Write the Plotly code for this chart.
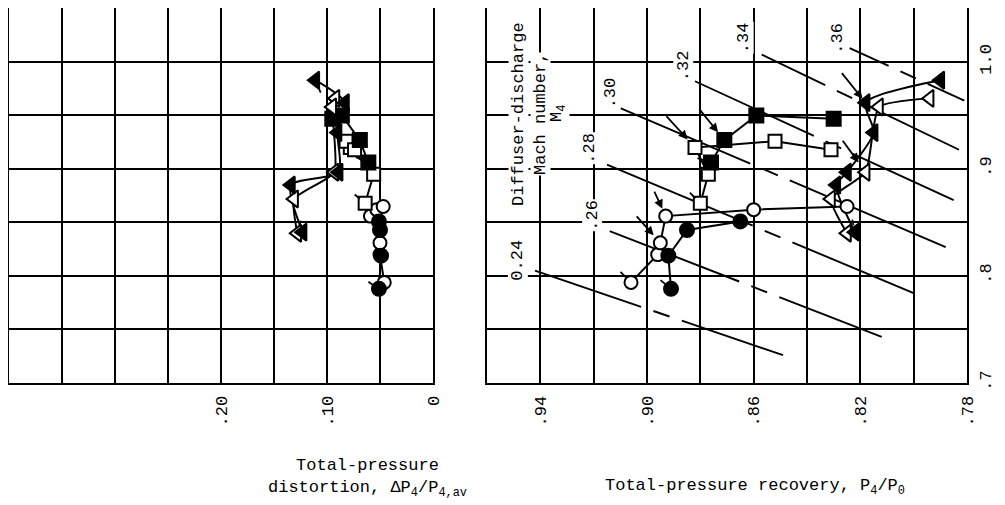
import math
import plotly.graph_objects as go

# ---------------- data ----------------
# shared ordinate values for each operating point (right-hand scale .7 - 1.0)
oc_y = [0.794, 0.820, 0.831, 0.856, 0.862, 0.865]
oc_rec = [0.906, 0.896, 0.895, 0.893, 0.860, 0.825]
oc_dist = [0.046, 0.050, 0.050, 0.059, 0.053, 0.047]

fc_y = [0.788, 0.819, 0.843, 0.851]
fc_rec = [0.891, 0.892, 0.885, 0.865]
fc_dist = [0.051, 0.049, 0.050, 0.051]

os_y = [0.868, 0.895, 0.920, 0.926, 0.918]
os_rec = [0.880, 0.877, 0.882, 0.852, 0.831]
os_dist = [0.064, 0.056, 0.078, 0.082, 0.074]

fs_y = [0.906, 0.927, 0.950, 0.947]
fs_rec = [0.876, 0.871, 0.859, 0.830]
fs_dist = [0.061, 0.069, 0.086, 0.095]

ft_y = [0.983, 0.962, 0.934, 0.897, 0.885, 0.841]
ft_rec = [0.790, 0.818, 0.815, 0.825, 0.829, 0.822]
ft_dist = [0.111, 0.083, 0.090, 0.089, 0.134, 0.123]

ot_y = [0.966, 0.958, 0.897, 0.872, 0.840]
ot_rec = [0.794, 0.813, 0.818, 0.831, 0.825]
ot_dist = [0.092, 0.095, 0.093, 0.131, 0.128]

# lines of constant diffuser-discharge Mach number (recovery, ordinate)
mach_labels = ["0.24", ".26", ".28", ".30", ".32", ".34", ".36"]
mach_x0 = [0.942, 0.914, 0.915, 0.910, 0.882, 0.857, 0.824]
mach_y0 = [0.805, 0.842, 0.904, 0.957, 0.982, 1.007, 1.013]
mach_x1 = [0.849, 0.812, 0.800, 0.788, 0.785, 0.783, 0.781]
mach_y1 = [0.726, 0.743, 0.784, 0.827, 0.871, 0.918, 0.964]

# tick labels
dist_tickvals = [0.0, 0.05, 0.10, 0.15, 0.20, 0.25, 0.30, 0.35, 0.40]
dist_ticktext = ["0", "", ".10", "", ".20", "", "", "", ""]
rec_tickvals = [0.78, 0.80, 0.82, 0.84, 0.86, 0.88, 0.90, 0.92, 0.94, 0.96]
rec_ticktext = [".78", "", ".82", "", ".86", "", ".90", "", ".94", ""]
y_tickvals = [0.70, 0.75, 0.80, 0.85, 0.90, 0.95, 1.00, 1.05]
y_ticktext = [".7", "", ".8", "", ".9", "", "1.0", ""]

# ---------------- styles ----------------
OFF = 8                      # page body margin of the html page
W, H = 1005 - OFF, 505 - OFF  # figure size so it fits the window


def px_x(p):  # reference pixel -> paper fraction
    return min(max((p - OFF) / W, 0.001), 1.0)


def px_y(p):
    return min(max(1 - (p - OFF) / H, 0.0), 0.999)


FONT = "Liberation Mono, Courier New, monospace"
dom_left = [px_x(7), px_x(433)]
dom_right = [px_x(487), px_x(967)]
dom_y = [px_y(383), px_y(8)]
dist_range = [0.40, 0.0]
rec_range = [0.96, 0.78]
y_range = [0.70, 1.05]

series = [
    # name, y, rec, dist, symbol, fill, size, line shape, smoothing
    ("oc", oc_y, oc_rec, oc_dist, "circle", "white", 13, "linear", 0),
    ("fc", fc_y, fc_rec, fc_dist, "circle", "black", 14, "linear", 0),
    ("os", os_y, os_rec, os_dist, "square", "white", 13, "linear", 0),
    ("fs", fs_y, fs_rec, fs_dist, "square", "black", 14, "linear", 0),
    ("ot", ot_y, ot_rec, ot_dist, "triangle-left", "white", 15, "spline", 0.5),
    ("ft", ft_y, ft_rec, ft_dist, "triangle-left", "black", 15, "spline", 0.7),
]
lookup = {s[0]: s for s in series}

# dash placement along each Mach line (fraction of length) and label offsets (px)
mach_dash_t = [0.51, 0.55, 0.54, 0.46, 0.535, 0.42, 0.51]
mach_lab_dx = [-17, -18, -17, -10, -12, -18, -13]
mach_lab_dy = [10, 16, 16, 15, 15, 17, 10]

# arrows pointing at selected points (right panel): series, index, ax, ay, standoff
arrows = [("os", 2, -30, -33, 11), ("fs", 1, -25, -31, 10), ("ft", 1, -25, -31, 5),
          ("oc", 2, -25, -28, 10), ("oc", 3, -12, -26, 8), ("ot", 2, -24, -33, 12)]
# small flags on symbols (right panel)
flags = [("oc", 0, -12, -12, 6), ("fc", 0, -12, -10, 7), ("os", 0, -12, -12, 7),
         ("fs", 0, -15, -5, 8), ("ft", 5, -3, -14, 7)]
# small flags on symbols (left panel)
flags_left = [("ft", 0, 6, 14, 7), ("ft", 1, -4, 14, 7), ("os", 0, -12, -10, 7),
              ("fs", 0, -14, -6, 8), ("fc", 0, -12, -8, 7), ("ot", 4, 4, -14, 7)]

fig = go.Figure()

# Mach-number lines
px_per_x = (dom_right[1] - dom_right[0]) * W / abs(rec_range[1] - rec_range[0])
px_per_y = (dom_y[1] - dom_y[0]) * H / abs(y_range[1] - y_range[0])
for i, lab in enumerate(mach_labels):
    L = math.hypot((mach_x1[i] - mach_x0[i]) * px_per_x, (mach_y1[i] - mach_y0[i]) * px_per_y)
    a = max(mach_dash_t[i] * L - 8.5 - 13, 5)
    dash = f"{a:.1f}px,13px,17px,13px,{L + 20:.1f}px"
    fig.add_trace(go.Scatter(x=[mach_x0[i], mach_x1[i]], y=[mach_y0[i], mach_y1[i]],
                             mode="lines", xaxis="x2", yaxis="y2", hoverinfo="skip",
                             line=dict(color="black", width=1.9, dash=dash),
                             showlegend=False))

# connecting lines, then markers
for name, yy, rec, dist, sym, fill, size, shape, smooth in series:
    for xs, xa, ya in ((dist, "x", "y"), (rec, "x2", "y2")):
        line = dict(color="black", width=2, shape=shape)
        if shape == "spline":
            line["smoothing"] = smooth
        fig.add_trace(go.Scatter(x=xs, y=yy, mode="lines", xaxis=xa, yaxis=ya,
                                 line=line, hoverinfo="skip", showlegend=False))
for name, yy, rec, dist, sym, fill, size, shape, smooth in series:
    for xs, xa, ya in ((dist, "x", "y"), (rec, "x2", "y2")):
        fig.add_trace(go.Scatter(x=xs, y=yy, mode="markers", xaxis=xa, yaxis=ya,
                                 marker=dict(symbol=sym, size=size, color=fill,
                                             line=dict(color="black", width=2)),
                                 showlegend=False))

annotations = []
for i, lab in enumerate(mach_labels):
    annotations.append(dict(x=mach_x0[i], y=mach_y0[i], xref="x2", yref="y2",
                            text=lab, showarrow=False, textangle=-90,
                            xshift=mach_lab_dx[i], yshift=mach_lab_dy[i],
                            font=dict(family=FONT, size=17, color="black"),
                            bgcolor="white", borderpad=0))

for name, idx, ax, ay, so in arrows:
    s = lookup[name]
    annotations.append(dict(x=s[2][idx], y=s[1][idx], xref="x2", yref="y2", text="",
                            showarrow=True, arrowhead=2, arrowsize=1, arrowwidth=1.8,
                            arrowcolor="black", ax=ax, ay=ay, standoff=so))
for name, idx, ax, ay, so in flags:
    s = lookup[name]
    annotations.append(dict(x=s[2][idx], y=s[1][idx], xref="x2", yref="y2", text="",
                            showarrow=True, arrowhead=0, arrowwidth=1.8,
                            arrowcolor="black", ax=ax, ay=ay, standoff=so))
for name, idx, ax, ay, so in flags_left:
    s = lookup[name]
    annotations.append(dict(x=s[3][idx], y=s[1][idx], xref="x", yref="y", text="",
                            showarrow=True, arrowhead=0, arrowwidth=1.8,
                            arrowcolor="black", ax=ax, ay=ay, standoff=so))

# Mach number title inside the right panel
for txt, px in (("Diffuser-discharge", 518), ("Mach number,", 540), ("M<sub>4</sub>", 558)):
    annotations.append(dict(x=px_x(px), y=px_y(114), xref="paper", yref="paper",
                            text=txt, showarrow=False, textangle=-90,
                            xanchor="center", yanchor="middle",
                            font=dict(family=FONT, size=17, color="black"),
                            bgcolor="white", borderpad=0))

# axis titles
annotations.append(dict(x=px_x(367), y=px_y(478), xref="paper", yref="paper",
                        text="Total-pressure<br>distortion, ΔP<sub>4</sub>/P<sub>4,av</sub>",
                        showarrow=False, xanchor="center", yanchor="middle",
                        font=dict(family=FONT, size=17, color="black")))
annotations.append(dict(x=px_x(755), y=px_y(487), xref="paper", yref="paper",
                        text="Total-pressure recovery, P<sub>4</sub>/P<sub>0</sub>",
                        showarrow=False, xanchor="center", yanchor="middle",
                        font=dict(family=FONT, size=17, color="black")))

axis_common = dict(showgrid=True, gridcolor="black", gridwidth=2, zeroline=False,
                   showline=True, linecolor="black", linewidth=2, mirror=True,
                   ticks="", tickmode="array", tickangle=-90, automargin=False,
                   tickfont=dict(family=FONT, size=17, color="black"))

fig.update_layout(
    width=W, height=H, autosize=False,
    margin=dict(l=0, r=0, t=0, b=0),
    paper_bgcolor="white", plot_bgcolor="white",
    showlegend=False,
    xaxis=dict(axis_common, domain=dom_left, range=dist_range, anchor="y",
               tickvals=dist_tickvals, ticktext=dist_ticktext, ticklabelstandoff=4),
    yaxis=dict(axis_common, domain=dom_y, range=y_range, anchor="x",
               tickvals=y_tickvals, showticklabels=False),
    xaxis2=dict(axis_common, domain=dom_right, range=rec_range, anchor="y2",
                tickvals=rec_tickvals, ticktext=rec_ticktext, ticklabelstandoff=4),
    yaxis2=dict(axis_common, domain=dom_y, range=y_range, anchor="x2", side="right",
                tickvals=y_tickvals, ticktext=y_ticktext, ticklabelstandoff=2),
    annotations=annotations,
)

fig.write_html("out.html")
